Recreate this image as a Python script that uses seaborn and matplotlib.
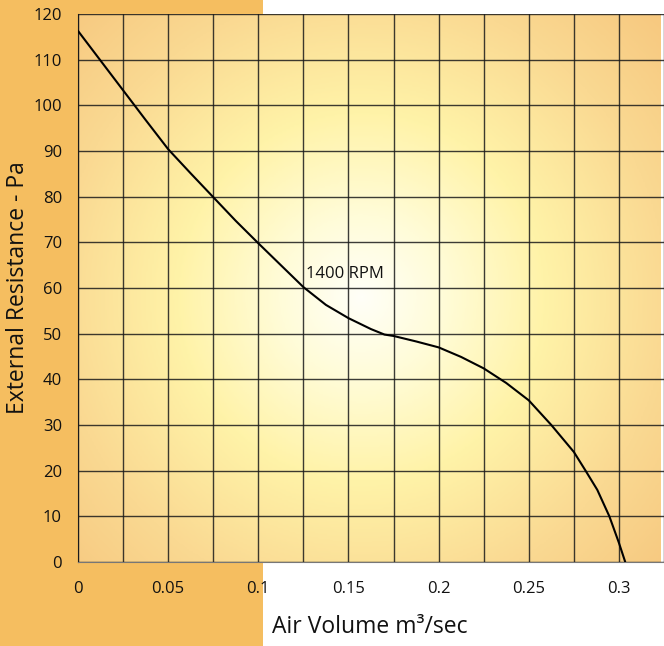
import numpy as np
import matplotlib
matplotlib.use("Agg")
import matplotlib.pyplot as plt
from matplotlib.colors import LinearSegmentedColormap
from matplotlib.patches import Rectangle
import seaborn as sns

# fan curve
air_volume = [0, 0.0125, 0.025, 0.0375, 0.05, 0.0625, 0.075, 0.0875, 0.1, 0.1125,
              0.125, 0.1375, 0.15, 0.1625, 0.17, 0.175, 0.1875, 0.2, 0.2125, 0.225,
              0.2375, 0.25, 0.2625, 0.275, 0.2815, 0.288, 0.2947, 0.3, 0.3035]
resistance = [116.3, 109.8, 103.3, 96.8, 90.4, 85.1, 79.9, 74.7, 69.8, 65.0,
              60.2, 56.3, 53.4, 51.0, 49.8, 49.5, 48.3, 47.0, 44.9, 42.4,
              39.2, 35.4, 30.0, 24.1, 20.0, 15.8, 10.0, 4.2, 0]
x_grid = [i * 0.025 for i in range(14)]
x_labels = ["0", "", "0.05", "", "0.1", "", "0.15", "", "0.2", "", "0.25", "", "0.3", ""]
y_ticks = list(range(0, 121, 10))
curve_label = "1400 RPM"

sns.set_style("white")
plt.rcParams['font.family'] = ['Open Sans', 'DejaVu Sans']

fig = plt.figure(figsize=(6.64, 6.46), dpi=100)
fig.patches.append(Rectangle((0, 0), 263 / 664, 1, transform=fig.transFigure,
                             facecolor="#F5BE60", edgecolor="none", zorder=-10))
ax = fig.add_axes([78 / 664, 84 / 646, 586 / 664, 548 / 646])

xmax, ymax = 0.323, 120

# radial glow background
gx, gy = np.meshgrid(np.linspace(0, 586, 300), np.linspace(0, 548, 300))
r = np.sqrt((gx - 285) ** 2 + (gy - 265) ** 2) / 410
cmap = LinearSegmentedColormap.from_list("glow", [(0, "#FFFFF8"), (0.2, "#FFFCD8"),
                                                  (0.45, "#FFF3A8"), (0.75, "#FAD992"),
                                                  (1, "#F7C980")])
ax.imshow(np.clip(r, 0, 1), cmap=cmap, vmin=0, vmax=1, extent=(0, xmax, ymax, 0),
          aspect="auto", zorder=0)

sns.lineplot(x=air_volume, y=resistance, ax=ax, color="black", linewidth=1.5,
             sort=False, zorder=3)
ax.text(0.1265, 63.1, curve_label, fontsize=12, va="center", ha="left", zorder=4,
        color="#111111")

ax.set_xlim(0, xmax)
ax.set_ylim(0, ymax)
ax.set_xticks(x_grid)
ax.set_xticklabels(x_labels)
ax.set_yticks(y_ticks)
ax.grid(True, color="#1a1a1a", linewidth=1, alpha=0.85)
ax.set_axisbelow(False)
ax.tick_params(axis="both", length=0, labelsize=12, colors="#111111")
ax.tick_params(axis="x", pad=14)
ax.tick_params(axis="y", pad=11.5)

for s in ["top", "right"]:
    ax.spines[s].set_visible(False)
ax.spines["left"].set_color("#222222")
ax.spines["bottom"].set_color("#777777")

ax.set_xlabel("Air Volume m\u00b3/sec", fontsize=16.5, color="#111111", va="center")
ax.set_ylabel("External Resistance - Pa", fontsize=16.5, color="#111111", va="center")
ax.xaxis.set_label_coords(0.498, -0.119)
ax.yaxis.set_label_coords(-0.1024, 0.5)

fig.savefig("out.png", dpi=100)
